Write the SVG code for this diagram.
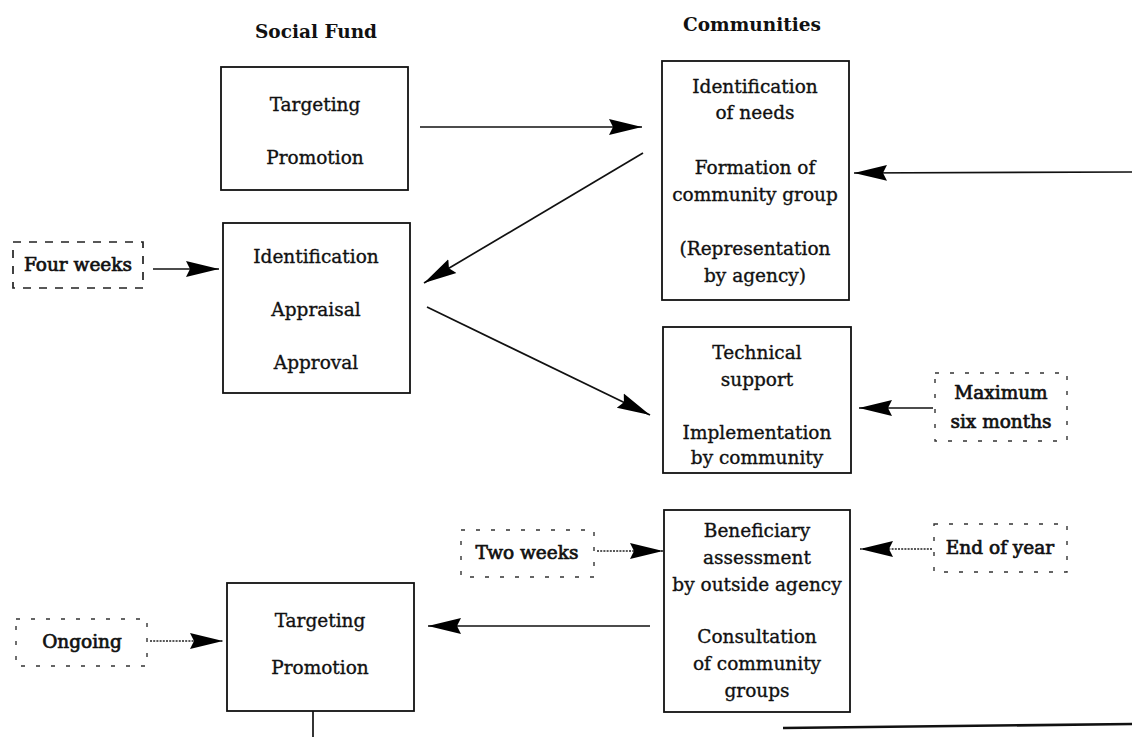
<svg xmlns="http://www.w3.org/2000/svg" width="1132" height="737" viewBox="0 0 1132 737">
<defs>
<marker id="ah" markerUnits="userSpaceOnUse" markerWidth="36" markerHeight="18" refX="33" refY="9" orient="auto">
<path d="M0,1 L33,9 L0,17 L4,9 z" fill="#000"/>
</marker>
<style>
.box{fill:#fff;stroke:#111;stroke-width:1.8}
.dbox{fill:none;stroke:#333;stroke-width:1.4;stroke-dasharray:4 11}
.dbox2{fill:none;stroke:#222;stroke-width:1.7;stroke-dasharray:8 8}
.t{font-family:"DejaVu Serif","Liberation Serif",serif;font-size:18.5px;fill:#111;stroke:#111;stroke-width:0.35;text-anchor:middle}
.tb{font-family:"DejaVu Serif","Liberation Serif",serif;font-size:18.5px;fill:#111;stroke:#111;stroke-width:0.7;text-anchor:middle}
.h{font-family:"DejaVu Serif","Liberation Serif",serif;font-size:18.5px;font-weight:bold;fill:#111;text-anchor:middle}
.c{fill:none;stroke:#111;stroke-width:1.7}
.d{fill:none;stroke:#222;stroke-width:1.7;stroke-dasharray:2 1.2}
</style>
</defs>
<rect width="1132" height="737" fill="#fff"/>
<g id="headers">
<text class="h" x="316" y="38">Social Fund</text>
<text class="h" x="752" y="31">Communities</text>
</g>
<g id="connectors">
<path class="c" d="M420,127 L642,127" marker-end="url(#ah)"/>
<path class="c" d="M643,153 L424,283" marker-end="url(#ah)"/>
<path class="c" d="M427,307 L650,415" marker-end="url(#ah)"/>
<path class="c" d="M1132,172 L854,173" marker-end="url(#ah)"/>
<path class="c" d="M153,269 L219,269" marker-end="url(#ah)"/>
<path class="c" d="M933,408 L859,408" marker-end="url(#ah)"/>
<path class="d" d="M597,551 L663,551" marker-end="url(#ah)"/>
<path class="d" d="M932,549 L860,549" marker-end="url(#ah)"/>
<path class="c" d="M650,626 L428,626" marker-end="url(#ah)"/>
<path class="d" d="M150,641 L223,641" marker-end="url(#ah)"/>
<path class="c" d="M313,711 L313,737"/>
<path class="c" d="M783,728 L1132,724" style="stroke-width:2.6"/>
</g>
<g id="sf-targeting">
<rect class="box" x="221" y="67" width="187" height="123"/>
<text class="t" x="315" y="111">Targeting</text>
<text class="t" x="315" y="164">Promotion</text>
</g>
<g id="sf-appraisal">
<rect class="box" x="223" y="223" width="187" height="170"/>
<text class="t" x="316" y="263">Identification</text>
<text class="t" x="316" y="316">Appraisal</text>
<text class="t" x="316" y="369">Approval</text>
</g>
<g id="c-needs">
<rect class="box" x="662" y="61" width="187" height="239"/>
<text class="t" x="755" y="93">Identification</text>
<text class="t" x="755" y="119">of needs</text>
<text class="t" x="755" y="174">Formation of</text>
<text class="t" x="755" y="201">community group</text>
<text class="t" x="755" y="255">(Representation</text>
<text class="t" x="755" y="282">by agency)</text>
</g>
<g id="c-implementation">
<rect class="box" x="663" y="327" width="188" height="146"/>
<text class="t" x="757" y="359">Technical</text>
<text class="t" x="757" y="386">support</text>
<text class="t" x="757" y="439">Implementation</text>
<text class="t" x="757" y="464">by community</text>
</g>
<g id="c-assessment">
<rect class="box" x="664" y="510" width="186" height="202"/>
<text class="t" x="757" y="537">Beneficiary</text>
<text class="t" x="757" y="564">assessment</text>
<text class="t" x="757" y="591">by outside agency</text>
<text class="t" x="757" y="643">Consultation</text>
<text class="t" x="757" y="670">of community</text>
<text class="t" x="757" y="697">groups</text>
</g>
<g id="sf-targeting-2">
<rect class="box" x="227" y="583" width="187" height="128"/>
<text class="t" x="320" y="627">Targeting</text>
<text class="t" x="320" y="674">Promotion</text>
</g>
<g id="four-weeks">
<rect class="dbox2" x="13" y="242" width="130" height="46"/>
<text class="tb" x="78" y="271">Four weeks</text>
</g>
<g id="max-six-months">
<rect class="dbox" x="935" y="373" width="132" height="68"/>
<text class="tb" x="1001" y="399">Maximum</text>
<text class="tb" x="1001" y="428">six months</text>
</g>
<g id="two-weeks">
<rect class="dbox" x="461" y="530" width="133" height="47"/>
<text class="tb" x="527" y="559">Two weeks</text>
</g>
<g id="end-of-year">
<rect class="dbox" x="934" y="524" width="133" height="48"/>
<text class="tb" x="1000" y="554">End of year</text>
</g>
<g id="ongoing">
<rect class="dbox" x="16" y="619" width="131" height="47"/>
<text class="tb" x="82" y="648">Ongoing</text>
</g>
</svg>
